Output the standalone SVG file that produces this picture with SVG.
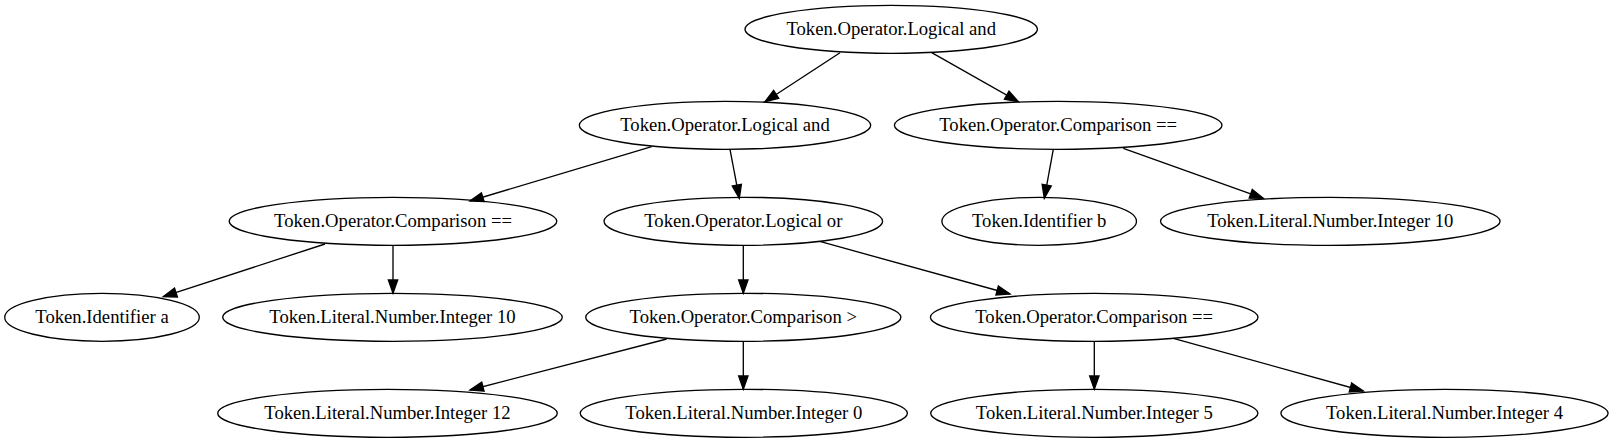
<svg xmlns="http://www.w3.org/2000/svg" width="1614" height="443" viewBox="0 0 1614 443">
<style>
.node ellipse{fill:none;stroke:#000;stroke-width:1.33}
.node text{font-family:"Liberation Serif","Times New Roman",serif;font-size:18.67px;fill:#000;text-anchor:middle}
.edges line{stroke:#000;stroke-width:1.33;marker-end:url(#ah)}
</style>
<defs>
<marker id="ah" markerUnits="userSpaceOnUse" markerWidth="16" markerHeight="12" refX="13.33" refY="4.67" orient="auto" overflow="visible">
<path d="M0,0 L13.33,4.67 L0,9.33 Z" fill="#000" stroke="#000" stroke-width="1.33"/>
</marker>
</defs>
<rect width="1614" height="443" fill="#fff"/>
<g class="edges" id="edges">
<line x1="840" y1="52.7" x2="765" y2="101.7"/>
<line x1="931.7" y1="52.7" x2="1018.3" y2="101.7"/>
<line x1="651.7" y1="146.7" x2="470" y2="201"/>
<line x1="730" y1="149.3" x2="739.3" y2="198.3"/>
<line x1="1053.3" y1="149.3" x2="1044.3" y2="198.3"/>
<line x1="1123.3" y1="148.3" x2="1263.3" y2="198.3"/>
<line x1="325" y1="244" x2="163.3" y2="296.7"/>
<line x1="393" y1="245.3" x2="393" y2="293.3"/>
<line x1="743.3" y1="245.3" x2="743.3" y2="293.3"/>
<line x1="820.7" y1="241.7" x2="1010" y2="294"/>
<line x1="666.7" y1="339" x2="470" y2="390"/>
<line x1="743.3" y1="341.3" x2="743.3" y2="389.3"/>
<line x1="1094.3" y1="341.3" x2="1094.3" y2="389.3"/>
<line x1="1173.3" y1="338.3" x2="1363.3" y2="391"/>
</g>
<g class="node" id="n0"><ellipse cx="891.2" cy="29.3" rx="146.2" ry="24"/><text x="891.2" y="35.3">Token.Operator.Logical and</text></g>
<g class="node" id="n1"><ellipse cx="725" cy="125.3" rx="145.7" ry="24"/><text x="725" y="131.3">Token.Operator.Logical and</text></g>
<g class="node" id="n2"><ellipse cx="1058.2" cy="125.3" rx="163.8" ry="24"/><text x="1058.2" y="131.3">Token.Operator.Comparison ==</text></g>
<g class="node" id="n3"><ellipse cx="393" cy="221.3" rx="163.8" ry="24"/><text x="393" y="227.3">Token.Operator.Comparison ==</text></g>
<g class="node" id="n4"><ellipse cx="743.3" cy="221.3" rx="139.3" ry="24"/><text x="743.3" y="227.3">Token.Operator.Logical or</text></g>
<g class="node" id="n5"><ellipse cx="1039.2" cy="221.3" rx="97.3" ry="24"/><text x="1039.2" y="227.3">Token.Identifier b</text></g>
<g class="node" id="n6"><ellipse cx="1330.3" cy="221.3" rx="169.8" ry="24"/><text x="1330.3" y="227.3">Token.Literal.Number.Integer 10</text></g>
<g class="node" id="n7"><ellipse cx="102" cy="317.3" rx="97.3" ry="24"/><text x="102" y="323.3">Token.Identifier a</text></g>
<g class="node" id="n8"><ellipse cx="392.5" cy="317.3" rx="169.8" ry="24"/><text x="392.5" y="323.3">Token.Literal.Number.Integer 10</text></g>
<g class="node" id="n9"><ellipse cx="743.3" cy="317.3" rx="157.6" ry="24"/><text x="743.3" y="323.3">Token.Operator.Comparison &gt;</text></g>
<g class="node" id="n10"><ellipse cx="1094.2" cy="317.3" rx="163.8" ry="24"/><text x="1094.2" y="323.3">Token.Operator.Comparison ==</text></g>
<g class="node" id="n11"><ellipse cx="387.5" cy="413.3" rx="169.8" ry="24"/><text x="387.5" y="419.3">Token.Literal.Number.Integer 12</text></g>
<g class="node" id="n12"><ellipse cx="743.8" cy="413.3" rx="163.6" ry="24"/><text x="743.8" y="419.3">Token.Literal.Number.Integer 0</text></g>
<g class="node" id="n13"><ellipse cx="1094.3" cy="413.3" rx="163.6" ry="24"/><text x="1094.3" y="419.3">Token.Literal.Number.Integer 5</text></g>
<g class="node" id="n14"><ellipse cx="1444.5" cy="413.3" rx="163.6" ry="24"/><text x="1444.5" y="419.3">Token.Literal.Number.Integer 4</text></g>
</svg>
